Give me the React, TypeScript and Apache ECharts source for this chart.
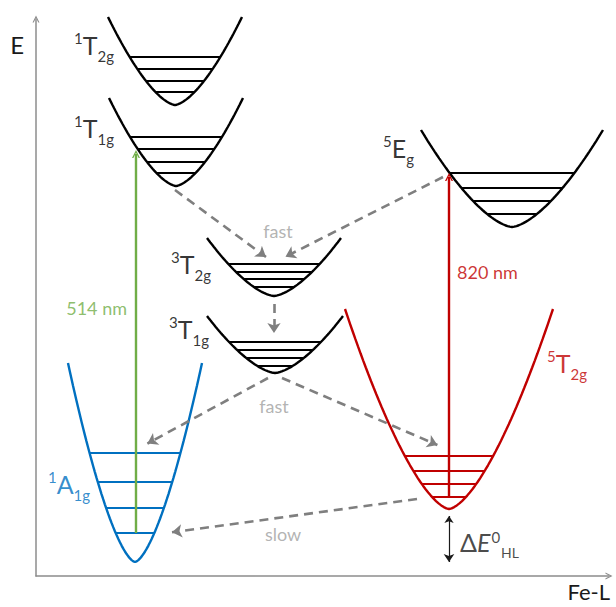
import React, { useEffect, useRef } from 'react';
import * as echarts from 'echarts';

// ---------- data (arbitrary units: x = Fe-L distance, E = energy) ----------
const wellNames = ['1T2g', '1T1g', '3T2g', '3T1g', '5Eg', '1A1g', '5T2g'];
const wellCenter = [139, 140, 238, 239, 476, 99, 413];
const wellMinimum = [471, 390, 280, 203, 349, 14, 67];
const wellHalfWidth = [67, 67, 67, 68, 91, 67, 104];
const wellDepth = [88, 88, 58, 57, 97, 199, 200];
const wellLevels = [
  [519, 507, 495, 484],
  [439, 427, 414, 403],
  [312, 304, 297, 289],
  [234, 226, 218, 210],
  [403, 388, 375, 362],
  [123, 94, 68, 43],
  [120, 105, 92, 79],
];

// state labels: superscript, main letter, subscript, anchor
const stateSup = ['1', '1', '3', '3', '5', '1', '5'];
const stateMain = ['T', 'T', 'T', 'T', 'E', 'A', 'T'];
const stateSub = ['2g', '1g', '2g', '1g', 'g', '1g', '2g'];
const stateLabelX = [38, 38, 135, 133, 347, 12, 511];
const stateLabelE = [534, 451, 315, 249.5, 430.5, 94.5, 215.5];

// vertical absorptions
const excitationLabels = ['514 nm', '820 nm'];
const excitationX = [100, 413];
const excitationFromE = [43, 79];
const excitationToE = [422, 399];
const excitationLabelX = [91, 421];
const excitationLabelE = [268, 304];

// non-radiative relaxations (dashed)
const relaxFrom = [[139, 386], [407, 399], [238, 272], [232, 198], [246, 198], [381, 77]];
const relaxTo = [[230, 319], [249.5, 319.3], [238, 243], [111.4, 132.4], [401.4, 131], [136, 43.7]];
const relaxLabels = ['fast', 'fast', 'slow'];
const relaxLabelX = [242, 238, 247];
const relaxLabelE = [345, 170, 42];

// ΔE0HL gap
const gapX = 413;
const gapFromE = 60;
const gapToE = 14;
const gapLabelX = 424;
const gapLabelE = 36.5;

// ---------- styles ----------
const FONT = 'Lato, "Open Sans", sans-serif';
const SHAPE = 1.55;
const BLACK = '#000000';
const BLUE = '#0070C0';
const RED = '#C00000';
const GREEN = '#70AD47';
const DASH = '#7F7F7F';
const NOTE = '#A0A0A0';
const AXIS = '#8C8C8C';
const wellColorOf: Record<string, string> = { '1A1g': BLUE, '5T2g': RED };
const CHEVRON = 'path://M0,20 L10,0 L20,20 L16.5,20 L10,7 L3.5,20 Z';

function wellCurve(i: number) {
  const pts: number[][] = [];
  const n = 80;
  for (let k = 0; k <= n; k++) {
    const t = -1 + (2 * k) / n;
    pts.push([wellCenter[i] + t * wellHalfWidth[i], wellMinimum[i] + wellDepth[i] * Math.pow(Math.abs(t), SHAPE)]);
  }
  return pts;
}
function levelHalf(i: number, e: number) {
  const f = (e - wellMinimum[i]) / wellDepth[i];
  return wellHalfWidth[i] * Math.pow(f, 1 / SHAPE);
}

function stateLabel(i: number, color: string) {
  return {
    show: true,
    position: 'right',
    distance: 0,
    color,
    fontFamily: FONT,
    formatter: `{sup|${stateSup[i]}}{main|${stateMain[i]}}{sub|${stateSub[i]}}`,
    rich: {
      main: { fontSize: 25, lineHeight: 28, verticalAlign: 'top', padding: [4, 0, 6, 0], fontFamily: FONT, color },
      sup: { fontSize: 15, lineHeight: 15, verticalAlign: 'top', padding: [2, 0, 0, 0], fontFamily: FONT, color },
      sub: { fontSize: 15, lineHeight: 15, verticalAlign: 'top', padding: [20, 0, 0, 0], fontFamily: FONT, color },
    },
  };
}

export default function App() {
  const ref = useRef<HTMLDivElement>(null);
  useEffect(() => {
    if (!ref.current) return;
    const chart = echarts.init(ref.current, null, { renderer: 'svg' });
    const series: any[] = [];

    wellNames.forEach((name, i) => {
      const color = wellColorOf[name] || BLACK;
      series.push({
        type: 'line',
        name,
        data: wellCurve(i),
        showSymbol: false,
        symbol: 'none',
        clip: false,
        silent: true,
        lineStyle: { color, width: 2.4 },
        z: 3,
      });
    });

    const levelData: any[] = [];
    wellNames.forEach((name, i) => {
      const color = wellColorOf[name] || BLACK;
      wellLevels[i].forEach((e) => {
        const h = levelHalf(i, e);
        levelData.push({
          coords: [[wellCenter[i] - h, e], [wellCenter[i] + h, e]],
          lineStyle: { color, width: 2.2, opacity: 1 },
        });
      });
    });
    series.push({
      type: 'lines',
      coordinateSystem: 'cartesian2d',
      data: levelData,
      symbol: 'none',
      lineStyle: { opacity: 1, width: 2.2 },
      silent: true,
      z: 3,
    });

    series.push({
      type: 'lines',
      coordinateSystem: 'cartesian2d',
      data: relaxFrom.map((f, i) => ({ coords: [f, relaxTo[i]] })),
      symbol: ['none', 'arrow'],
      symbolSize: [10, 10],
      lineStyle: { color: DASH, width: 2.6, type: [9, 6], opacity: 1 },
      silent: true,
      z: 4,
    });

    series.push({
      type: 'lines',
      coordinateSystem: 'cartesian2d',
      data: excitationX.map((x, i) => ({
        coords: [[x, excitationFromE[i]], [x, excitationToE[i]]],
        lineStyle: { color: i === 0 ? GREEN : RED, width: 2.4, opacity: 1 },
      })),
      symbol: ['none', CHEVRON],
      symbolSize: [12, 8],
      lineStyle: { opacity: 1 },
      silent: true,
      z: 5,
    });

    series.push({
      type: 'lines',
      coordinateSystem: 'cartesian2d',
      data: [{ coords: [[gapX, gapFromE], [gapX, gapToE]] }],
      symbol: ['arrow', 'arrow'],
      symbolSize: [7, 8],
      lineStyle: { color: '#1a1a1a', width: 1.2, opacity: 1 },
      silent: true,
      z: 5,
    });

    const labelData: any[] = [];
    wellNames.forEach((name, i) => {
      const color = wellColorOf[name] || BLACK;
      labelData.push({ value: [stateLabelX[i], stateLabelE[i]], label: stateLabel(i, color) });
    });
    excitationLabels.forEach((t, i) => {
      labelData.push({
        value: [excitationLabelX[i], excitationLabelE[i]],
        label: {
          show: true,
          position: i === 0 ? 'left' : 'right',
          distance: 0,
          formatter: t,
          color: i === 0 ? GREEN : RED,
          fontFamily: FONT,
          fontSize: 18,
        },
      });
    });
    relaxLabels.forEach((t, i) => {
      labelData.push({
        value: [relaxLabelX[i], relaxLabelE[i]],
        label: { show: true, position: 'inside', formatter: t, color: NOTE, fontFamily: FONT, fontSize: 18 },
      });
    });
    labelData.push({
      value: [gapLabelX, gapLabelE],
      label: {
        show: true,
        position: 'right',
        distance: 0,
        color: '#1a1a1a',
        formatter: '{d|Δ}{e|E}{sup|0}{sub|HL}',
        rich: {
          d: { fontSize: 25, lineHeight: 28, verticalAlign: 'top', padding: [4, 0, 6, 0], fontFamily: FONT },
          e: { fontSize: 25, lineHeight: 28, verticalAlign: 'top', padding: [4, 0, 6, 0], fontFamily: FONT, fontStyle: 'italic' },
          sup: { fontSize: 15, lineHeight: 15, verticalAlign: 'top', padding: [4, 1, 0, 1], fontFamily: FONT },
          sub: { fontSize: 14, lineHeight: 14, verticalAlign: 'top', padding: [20, 0, 0, 0], fontFamily: FONT },
        },
      },
    });
    series.push({
      type: 'scatter',
      data: labelData,
      symbolSize: 0,
      silent: true,
      clip: false,
      z: 6,
    });

    chart.setOption({
      animation: false,
      backgroundColor: '#ffffff',
      grid: { left: 36, right: 7, top: 19, bottom: 31, containLabel: false },
      xAxis: {
        type: 'value',
        min: 0,
        max: 573,
        name: 'Fe-L',
        nameLocation: 'end',
        nameGap: 1,
        nameTextStyle: {
          align: 'right',
          verticalAlign: 'top',
          padding: [2, 0, 0, 0],
          lineHeight: 26,
          fontSize: 22,
          fontFamily: FONT,
          color: '#1a1a1a',
        },
        axisLine: { show: true, onZero: false, symbol: ['none', CHEVRON], symbolSize: [10, 7], lineStyle: { color: AXIS, width: 1.5 } },
        axisTick: { show: false },
        axisLabel: { show: false },
        splitLine: { show: false },
      },
      yAxis: {
        type: 'value',
        min: 0,
        max: 557,
        name: 'E',
        nameLocation: 'end',
        nameGap: -25,
        nameTextStyle: {
          align: 'right',
          verticalAlign: 'middle',
          padding: [0, 12, 0, 0],
          fontSize: 24,
          fontFamily: FONT,
          color: '#1a1a1a',
        },
        axisLine: { show: true, onZero: false, symbol: ['none', CHEVRON], symbolSize: [10, 7], lineStyle: { color: AXIS, width: 1.5 } },
        axisTick: { show: false },
        axisLabel: { show: false },
        splitLine: { show: false },
      },
      series,
    });
    return () => chart.dispose();
  }, []);
  return <div ref={ref} style={{ position: 'absolute', left: 0, top: 0, width: 616, height: 607, background: '#fff' }} />;
}
